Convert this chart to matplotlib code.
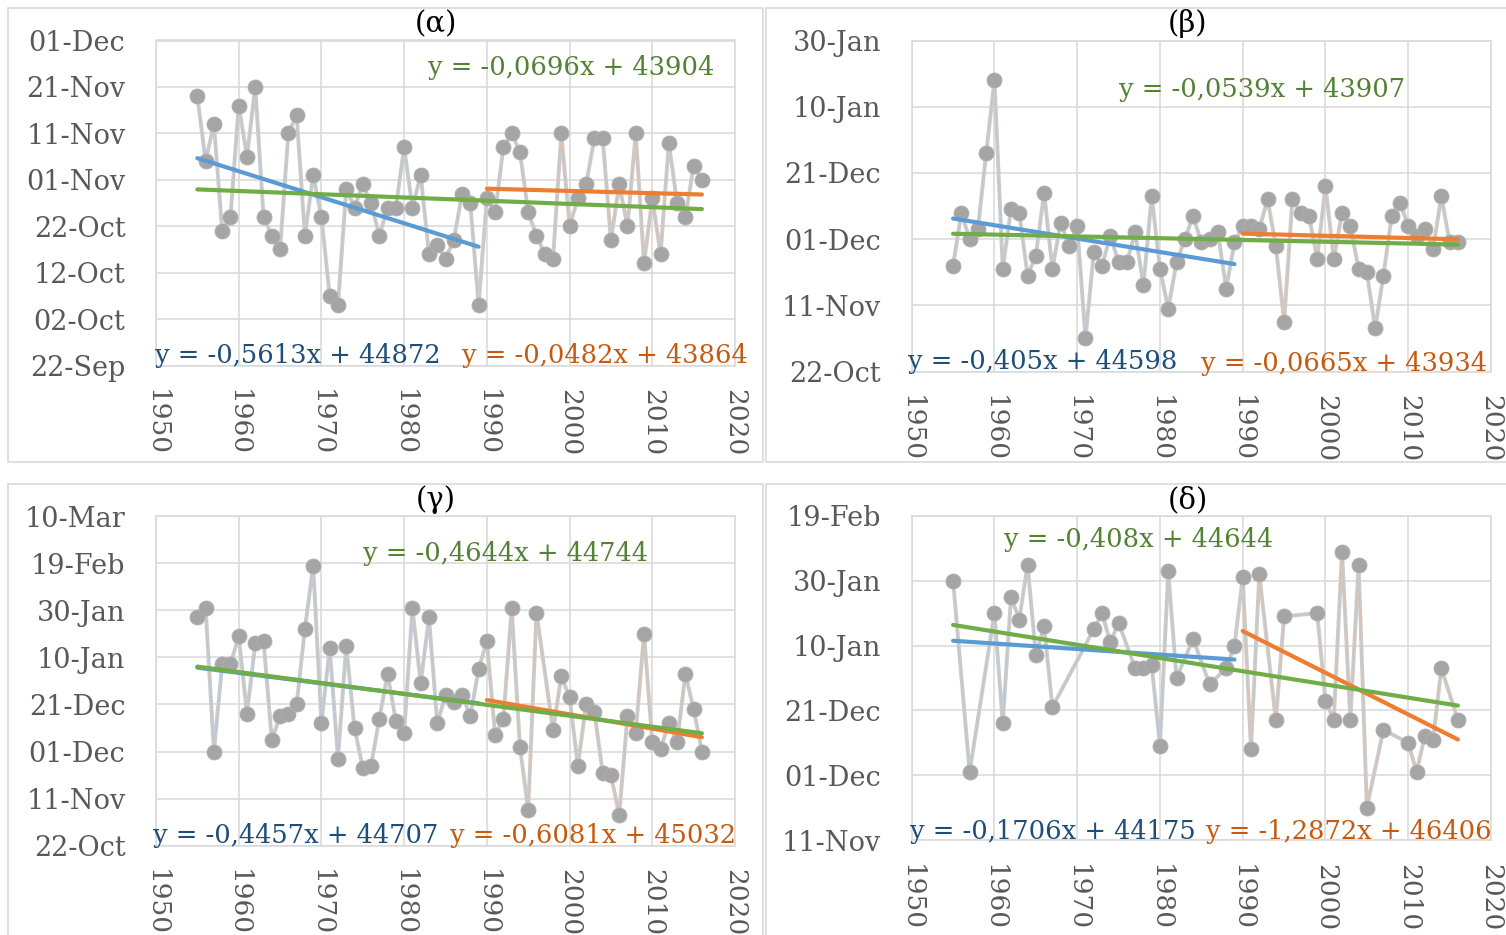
import numpy as np
import matplotlib.pyplot as plt
import matplotlib.dates as mdates
from matplotlib.patches import Rectangle

plt.rcParams['font.family'] = ['DejaVu Serif']

W, H = 1506, 935
EXCEL0 = 25569  # excel serial of 1970-01-01

years = np.arange(1955, 2017)
nan = np.nan

# dates as excel serial numbers (dummy season 2019/20)
alpha_days = [43788, 43774, 43782, 43759, 43762, 43786, 43775, 43790, 43762, 43758,
              43755, 43780, 43784, 43758, 43771, 43762, 43745, 43743, 43768, 43764,
              43769, 43765, 43758, 43764, 43764, 43777, 43764, 43771, 43754, 43756,
              43753, 43757, 43767, 43765, 43743, 43766, 43763, 43777, 43780, 43776,
              43763, 43758, 43754, 43753, 43780, 43760, 43766, 43769, 43779, 43779,
              43757, 43769, 43760, 43780, 43752, 43766, 43754, 43778, 43765, 43762,
              43773, 43770]
beta_days = [43792, 43808, 43800, 43803, 43826, 43848, 43791, 43809, 43808, 43789,
             43795, 43814, 43791, 43805, 43798, 43804, 43770, 43796, 43792, 43801,
             43793, 43793, 43802, 43786, 43813, 43791, 43779, 43793, 43800, 43807,
             43799, 43800, 43802, 43785, 43799, 43804, 43804, 43803, 43812, 43798,
             43775, 43812, 43808, 43807, 43794, 43816, 43794, 43808, 43804, 43791,
             43790, 43773, 43789, 43807, 43811, 43804, 43801, 43803, 43797, 43813,
             43799, 43799]
gamma_days = [43857, 43861, 43800, 43837, 43837, 43849, 43816, 43846, 43847, 43805,
              43815, 43816, 43820, 43852, 43879, 43812, 43844, 43797, 43845, 43810,
              43793, 43794, 43814, 43833, 43813, 43808, 43861, 43829, 43857, 43812,
              43824, 43821, 43824, 43815, 43835, 43847, 43807, 43814, 43861, 43802,
              43775, 43859, nan, 43809, 43832, 43823, 43794, 43820, 43817, 43791,
              43790, 43773, 43815, 43808, 43850, 43804, 43801, 43812, 43804, 43833,
              43818, 43800]
delta_days = [43860, nan, 43801, nan, nan, 43850, 43816, 43855, 43848, 43865,
              43837, 43846, 43821, nan, nan, nan, nan, 43845, 43850, 43841,
              43847, nan, 43833, 43833, 43834, 43809, 43863, 43830, nan, 43842,
              nan, 43828, nan, 43833, 43840, 43861, 43808, 43862, nan, 43817,
              43849, nan, nan, nan, 43850, 43823, 43817, 43869, 43817, 43865,
              43790, nan, 43814, nan, nan, 43810, 43801, 43812, 43811, 43833,
              nan, 43817]

titles = ['(α)', '(β)', '(γ)', '(δ)']
series = [alpha_days, beta_days, gamma_days, delta_days]
# trend lines (slope, intercept) as printed on the charts
trend_early = [(-0.5613, 44872), (-0.405, 44598), (-0.4457, 44707), (-0.1706, 44175)]
trend_late = [(-0.0482, 43864), (-0.0665, 43934), (-0.6081, 45032), (-1.2872, 46406)]
trend_all = [(-0.0696, 43904), (-0.0539, 43907), (-0.4644, 44744), (-0.408, 44644)]
y_lo = ['2019-09-22', '2019-10-22', '2019-10-22', '2019-11-11']
y_hi = ['2019-12-01', '2020-01-30', '2020-03-10', '2020-02-19']
y_step = [10, 20, 20, 20]

# layout in pixels
axes_px = [(156, 735, 40.5, 365.5), (911.7, 1491, 40.5, 371.5),
           (156, 735, 516.3, 845.6), (911.7, 1491, 515.9, 840)]
boxes_px = [(8, 8, 763, 462), (766, 8, 1512, 462), (8, 484, 763, 942), (766, 484, 1512, 942)]
title_px = [(436, 24), (1188, 24), (436, 500), (1188, 500)]
eq_all_px = [(428, 68), (1119, 89), (363, 553), (1004, 540)]
eq_early_px = [(155, 356), (908, 362), (153, 836), (910, 831)]
eq_late_px = [(462, 356), (1201, 364), (450, 836), (1206, 831)]

BLUE, ORANGE, GREEN = '#5b9bd5', '#ed7d31', '#70ad47'
BLUE_T, ORANGE_T, GREEN_T = '#1f4e79', '#c55a11', '#548235'
GRID = '#d9d9d9'
TICK = '#595959'


def eq_text(coef):
    s, b = coef
    return f"y = {s:g}x + {b:g}".replace('.', ',')


def fx(x):
    return x / W


def fy(y):
    return 1 - y / H


fig = plt.figure(figsize=(W / 100, H / 100), dpi=100)

for i in range(4):
    x0, y0, x1, y1 = boxes_px[i]
    fig.patches.append(Rectangle((fx(x0), fy(y1)), fx(x1 - x0), (y1 - y0) / H,
                                 transform=fig.transFigure, fill=False,
                                 edgecolor=GRID, lw=1.2, zorder=0))

    l, r, t, b = axes_px[i]
    ax = fig.add_axes([fx(l), fy(b), fx(r - l), (b - t) / H])
    v = np.array(series[i], dtype=float) - EXCEL0
    m = ~np.isnan(v)
    ax.plot(years[m], v[m], color='#cbcbcb', lw=2.8, zorder=2)
    early = m & (years <= 1989)
    late = m & (years >= 1990)
    # faint tint of the two sub-period series underneath the gray line
    ax.plot(years[early], v[early], color='#9dc3e6', lw=0.5, alpha=0.45, zorder=2.5)
    ax.plot(years[late], v[late], color='#f4b183', lw=0.5, alpha=0.45, zorder=2.5)
    ax.plot(years[m], v[m], 'o', color='#a5a5a5', ms=10.8, mec='#b0b0b0', mew=0.6, zorder=3)

    for coef, yrs, col in [(trend_early[i], (1955, 1989), BLUE),
                           (trend_late[i], (1990, 2016), ORANGE),
                           (trend_all[i], (1955, 2016), GREEN)]:
        xx = np.array(yrs, dtype=float)
        ax.plot(xx, coef[0] * xx + coef[1] - EXCEL0, color=col, lw=3,
                solid_capstyle='round', zorder=4)

    lo = mdates.datestr2num(y_lo[i])
    hi = mdates.datestr2num(y_hi[i])
    ax.set_ylim(lo, hi)
    ax.set_yticks(np.arange(lo, hi + 1, y_step[i]))
    ax.yaxis.set_major_formatter(mdates.DateFormatter('%d-%b'))
    ax.set_xlim(1950, 2020)
    ax.set_xticks(np.arange(1950, 2021, 10))
    ax.tick_params(axis='x', length=0, pad=17, labelsize=19, labelcolor=TICK,
                   labelrotation=-90)
    ax.tick_params(axis='y', length=0, pad=22, labelsize=19.5, labelcolor=TICK)
    ax.grid(True, color=GRID, lw=1.1)
    for sp in ax.spines.values():
        sp.set_color(GRID)
        sp.set_linewidth(1.1)
    ax.set_facecolor('none')

    fig.text(fx(title_px[i][0]), fy(title_px[i][1]), titles[i], fontsize=21,
             ha='center', va='center', color='black')
    for coef, pos, col in [(trend_all[i], eq_all_px[i], GREEN_T),
                           (trend_early[i], eq_early_px[i], BLUE_T),
                           (trend_late[i], eq_late_px[i], ORANGE_T)]:
        fig.text(fx(pos[0]), fy(pos[1]), eq_text(coef), fontsize=18.5,
                 ha='left', va='center', color=col, zorder=5)

fig.savefig('out.png', dpi=100)
